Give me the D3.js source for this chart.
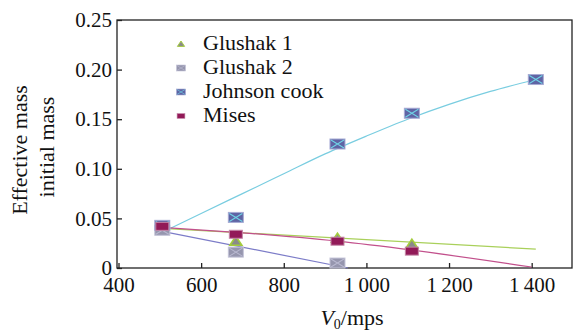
<!DOCTYPE html>
<html lang="en">
<head>
  <meta charset="UTF-8">
  <script src="https://d3js.org/d3.v7.min.js"></script>
  <title>Effective mass</title>
  <style>
    body { margin: 0; background: #fff; }
  </style>
</head>
<body>
  <svg id="chart" width="574" height="334"></svg>
  <script>
    // measured points (V0, effective/initial mass)
    const glushak1 = [[506, 0.040], [684, 0.027], [930, 0.030], [1110, 0.024]];
    const glushak2 = [[506, 0.038], [684, 0.016], [930, 0.005]];
    const johnson = [[506, 0.043], [684, 0.051], [930, 0.125], [1110, 0.156], [1410, 0.190]];
    const mises = [[506, 0.042], [684, 0.034], [930, 0.027], [1110, 0.017]];

    // fitted curves
    const fitGlushak1 = [[506, 0.040], [1410, 0.019]];
    const fitGlushak2 = [[506, 0.037], [955, 0.0]];
    const fitJohnson = [[506, 0.036], [600, 0.055], [700, 0.075], [800, 0.095], [900, 0.115],
      [1000, 0.133], [1100, 0.150], [1200, 0.165], [1300, 0.178], [1410, 0.190]];
    const fitMises = [[506, 0.041], [684, 0.036], [930, 0.027], [1110, 0.018], [1400, 0.001]];

    const xTicks = [400, 600, 800, 1000, 1200, 1400];
    const yTicks = [0, 0.05, 0.10, 0.15, 0.20, 0.25];
    const legendNames = ['Glushak 1', 'Glushak 2', 'Johnson cook', 'Mises'];

    const serif = '"Liberation Serif", "Times New Roman", "DejaVu Serif", serif';
    const svg = d3.select('#chart').attr('font-family', serif);
    const pLeft = 117, pRight = 572, pTop = 20, pBottom = 268;

    const x = d3.scaleLinear().domain([400, 1500]).range([pLeft + 1.5, pRight + 1]);
    const y = d3.scaleLinear().domain([0, 0.25]).range([pBottom, pTop]);

    // frame
    svg.append('rect')
      .attr('x', pLeft).attr('y', pTop)
      .attr('width', pRight - pLeft).attr('height', pBottom - pTop)
      .attr('fill', 'none').attr('stroke', '#222').attr('stroke-width', 1.3);

    const fmtX = d => d >= 1000 ? Math.floor(d / 1000) + '\u2009' + String(d % 1000).padStart(3, '0') : String(d);
    const fmtY = d => d === 0 ? '0' : d.toFixed(2);

    const xAxis = svg.append('g')
      .attr('transform', `translate(0,${pBottom})`)
      .call(d3.axisBottom(x).tickValues(xTicks).tickSizeInner(-5).tickSizeOuter(0).tickPadding(9).tickFormat(fmtX));
    xAxis.attr('font-family', serif).attr('font-size', 21);
    xAxis.select('.domain').remove();
    xAxis.selectAll('line').attr('stroke', '#222').attr('stroke-width', 1.3);
    xAxis.selectAll('text').attr('fill', '#111');

    const yAxis = svg.append('g')
      .attr('transform', `translate(${pLeft},0)`)
      .call(d3.axisLeft(y).tickValues(yTicks).tickSizeInner(-5).tickSizeOuter(0).tickPadding(5).tickFormat(fmtY));
    yAxis.attr('font-family', serif).attr('font-size', 21);
    yAxis.select('.domain').remove();
    yAxis.selectAll('line').attr('stroke', '#222').attr('stroke-width', 1.3);
    yAxis.selectAll('text').attr('fill', '#111');

    // axis titles
    const xt = svg.append('text')
      .attr('x', 352).attr('y', 325).attr('text-anchor', 'middle').attr('font-size', 22).attr('fill', '#111');
    xt.append('tspan').attr('font-style', 'italic').text('V');
    xt.append('tspan').attr('font-size', 14).attr('dy', 4).text('0');
    xt.append('tspan').attr('dy', -4).text('/mps');

    svg.append('text')
      .attr('transform', 'translate(27,150) rotate(-90)')
      .attr('text-anchor', 'middle').attr('font-size', 22).attr('fill', '#111').text('Effective mass');
    svg.append('text')
      .attr('transform', 'translate(54,147) rotate(-90)')
      .attr('text-anchor', 'middle').attr('font-size', 22).attr('fill', '#111').text('initial mass');

    // fitted lines
    const line = d3.line().x(d => x(d[0])).y(d => y(d[1])).curve(d3.curveMonotoneX);
    const fits = [
      { data: fitGlushak1, color: '#a9d05a' },
      { data: fitGlushak2, color: '#7c7cc8' },
      { data: fitJohnson, color: '#79cde0' },
      { data: fitMises, color: '#c2508c' }
    ];
    svg.selectAll('path.fit')
      .data(fits)
      .enter()
      .append('path')
      .attr('class', 'fit')
      .attr('d', d => line(d.data))
      .attr('fill', 'none')
      .attr('stroke', d => d.color)
      .attr('stroke-width', 1.2);

    // markers
    const drawSquare = (g, w, h, fill, edge, cross) => {
      g.append('rect').attr('x', -w / 2).attr('y', -h / 2).attr('width', w).attr('height', h)
        .attr('fill', fill).attr('stroke', edge).attr('stroke-width', 1);
      if (cross) {
        g.append('path').attr('d', `M${-w / 2 + 1},${-h / 2 + 1}L${w / 2 - 1},${h / 2 - 1}M${-w / 2 + 1},${h / 2 - 1}L${w / 2 - 1},${-h / 2 + 1}`)
          .attr('stroke', cross).attr('stroke-width', 1.1);
      }
    };
    const drawTriangle = g => {
      g.append('path').attr('d', 'M0,-5L6,4L-6,4Z')
        .attr('fill', '#8a8a8a').attr('stroke', '#a3cc3c').attr('stroke-width', 1.6);
    };
    const markers = [
      { data: glushak1, draw: g => drawTriangle(g) },
      { data: glushak2, draw: g => drawSquare(g, 15, 10, '#9696ae', '#c4c4d8', '#b9b9d0') },
      { data: johnson, draw: g => drawSquare(g, 15, 10, '#5f64a4', '#a6aad4', '#6fd3e6') },
      { data: mises, draw: g => drawSquare(g, 13, 8, '#921a58', '#c486a6', null) }
    ];
    markers.forEach(m => {
      svg.append('g').selectAll('g')
        .data(m.data)
        .enter()
        .append('g')
        .attr('transform', d => `translate(${x(d[0])},${y(d[1])})`)
        .each(function () { m.draw(d3.select(this)); });
    });

    // legend
    const legend = svg.append('g').attr('transform', 'translate(181,44)');
    legendNames.forEach((name, i) => {
      const row = legend.append('g').attr('transform', `translate(0,${i * 24})`);
      const mk = row.append('g').attr('transform', 'scale(0.6)');
      markers[i].draw(mk);
      row.append('text').attr('x', 22).attr('y', 6).attr('font-size', 22).attr('fill', '#111').text(name);
    });
  </script>
</body>
</html>
